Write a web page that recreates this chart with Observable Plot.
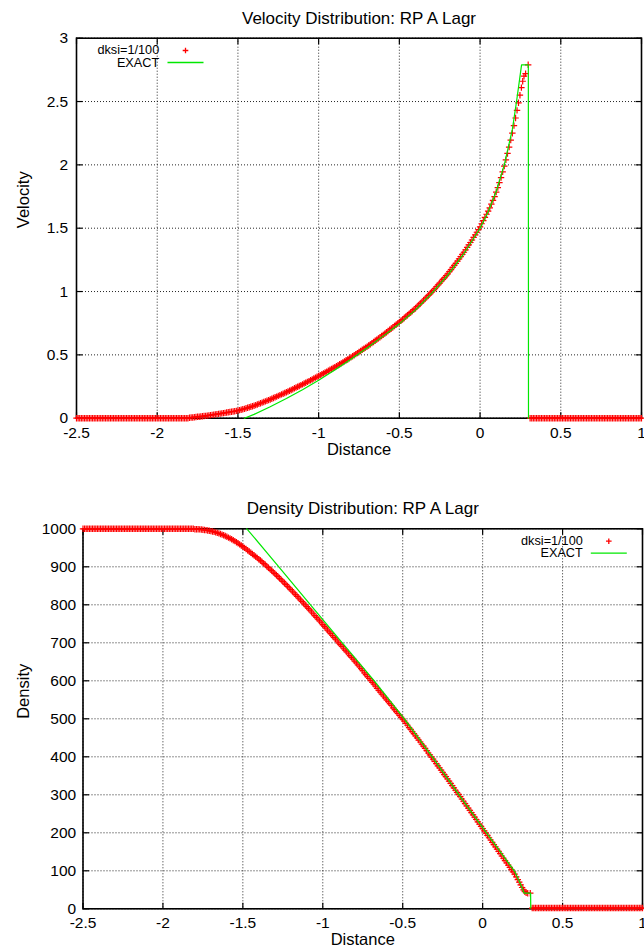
<!DOCTYPE html>
<html><head><meta charset="utf-8">
<script src="https://cdn.jsdelivr.net/npm/d3@7"></script>
<script src="https://cdn.jsdelivr.net/npm/@observablehq/plot@0.6"></script>
<style>
body{margin:0;background:#fff;}
#chart{width:644px;}
#chart svg{display:block;}
</style></head><body><div id="chart"></div>
<script>
// ---------- axis ticks ----------
const xTicks = [-2.5,-2,-1.5,-1,-0.5,0,0.5,1];
const velTicks = [0,0.5,1,1.5,2,2.5,3];
const denTicks = [0,100,200,300,400,500,600,700,800,900,1000];

// ---------- numerical solution (dksi=1/100), shared node positions ----------
const numLeftX = [-2.5,-2.49,-2.48,-2.47,-2.46,-2.45,-2.44,-2.43,-2.42,-2.41,
 -2.4,-2.39,-2.38,-2.37,-2.36,-2.35,-2.34,-2.33,-2.32,-2.31,
 -2.3,-2.29,-2.28,-2.27,-2.26,-2.25,-2.24,-2.23,-2.22,-2.21,
 -2.2,-2.19,-2.18,-2.17,-2.16,-2.15,-2.14,-2.13,-2.12,-2.11,
 -2.1,-2.09,-2.08,-2.07,-2.06,-2.05,-2.04,-2.03,-2.02,-2.01,
 -2,-1.99,-1.98,-1.97,-1.96,-1.95,-1.94,-1.93,-1.92,-1.91,
 -1.9,-1.89,-1.88,-1.87,-1.86,-1.85,-1.84,-1.83,-1.82,-1.81];
const numRightX = [0.31,0.32,0.33,0.34,0.35,0.36,0.37,0.38,0.39,0.4,
 0.41,0.42,0.43,0.44,0.45,0.46,0.47,0.48,0.49,0.5,
 0.51,0.52,0.53,0.54,0.55,0.56,0.57,0.58,0.59,0.6,
 0.61,0.62,0.63,0.64,0.65,0.66,0.67,0.68,0.69,0.7,
 0.71,0.72,0.73,0.74,0.75,0.76,0.77,0.78,0.79,0.8,
 0.81,0.82,0.83,0.84,0.85,0.86,0.87,0.88,0.89,0.9,
 0.91,0.92,0.93,0.94,0.95,0.96,0.97,0.98,0.99,1];
const velLeftState = 0, velRightState = 0;
const denLeftState = 1000, denRightState = 2;

const numMidX = [-1.8,-1.79,-1.78,-1.77,-1.76,-1.75,-1.74,-1.73,-1.72,-1.71,
 -1.7,-1.69,-1.68,-1.67,-1.66,-1.65,-1.64,-1.63,-1.62,-1.61,
 -1.6,-1.59,-1.58,-1.57,-1.56,-1.55,-1.54,-1.53,-1.52,-1.51,
 -1.5,-1.49,-1.48,-1.47,-1.46,-1.45,-1.44,-1.43,-1.42,-1.41,
 -1.4,-1.39,-1.38,-1.37,-1.36,-1.35,-1.34,-1.33,-1.32,-1.31,
 -1.3,-1.29,-1.28,-1.27,-1.26,-1.25,-1.24,-1.23,-1.22,-1.21,
 -1.2,-1.19,-1.18,-1.17,-1.16,-1.15,-1.14,-1.13,-1.12,-1.11,
 -1.1,-1.09,-1.08,-1.07,-1.06,-1.05,-1.04,-1.03,-1.02,-1.01,
 -1,-0.99,-0.98,-0.97,-0.96,-0.95,-0.94,-0.93,-0.92,-0.91,
 -0.9,-0.89,-0.88,-0.87,-0.86,-0.85,-0.84,-0.83,-0.82,-0.81,
 -0.8,-0.79,-0.78,-0.77,-0.76,-0.75,-0.74,-0.73,-0.72,-0.71,
 -0.7,-0.69,-0.68,-0.67,-0.66,-0.65,-0.64,-0.63,-0.62,-0.61,
 -0.6,-0.59,-0.58,-0.57,-0.56,-0.55,-0.54,-0.53,-0.52,-0.51,
 -0.5,-0.49,-0.48,-0.47,-0.46,-0.45,-0.44,-0.43,-0.42,-0.41,
 -0.4,-0.39,-0.38,-0.37,-0.36,-0.35,-0.34,-0.33,-0.32,-0.31,
 -0.3,-0.29,-0.28,-0.27,-0.26,-0.25,-0.24,-0.23,-0.22,-0.21,
 -0.2,-0.19,-0.18,-0.17,-0.16,-0.15,-0.14,-0.13,-0.12,-0.11,
 -0.1,-0.09,-0.08,-0.07,-0.06,-0.05,-0.04,-0.03,-0.02,-0.01,
 0,
 0.01,0.02,0.03,0.04,0.05,0.06,0.07,0.08,0.09,0.1,
 0.11,0.12,0.13,0.14,0.15,0.16,0.17,0.18,0.19,0.2,
 0.21,0.22,0.229,0.238,0.247,0.256,0.264,0.272,0.282,0.298];
const velMid = [0.004,0.005,0.006,0.008,0.009,0.011,0.012,0.014,0.015,0.017,
 0.018,0.020,0.022,0.024,0.026,0.028,0.030,0.032,0.034,0.036,
 0.038,0.040,0.042,0.045,0.047,0.049,0.051,0.053,0.055,0.058,
 0.060,0.064,0.067,0.071,0.074,0.078,0.082,0.086,0.090,0.094,
 0.098,0.103,0.108,0.113,0.118,0.123,0.128,0.133,0.138,0.143,
 0.148,0.154,0.159,0.165,0.170,0.176,0.182,0.188,0.193,0.199,
 0.205,0.211,0.217,0.223,0.229,0.236,0.242,0.248,0.254,0.261,
 0.267,0.274,0.280,0.287,0.293,0.300,0.306,0.313,0.320,0.327,
 0.333,0.340,0.347,0.354,0.361,0.368,0.375,0.382,0.389,0.396,
 0.403,0.411,0.418,0.426,0.433,0.441,0.449,0.457,0.464,0.472,
 0.480,0.489,0.497,0.506,0.514,0.523,0.531,0.540,0.548,0.557,
 0.565,0.574,0.583,0.593,0.602,0.611,0.620,0.630,0.639,0.649,
 0.658,0.668,0.678,0.688,0.698,0.708,0.718,0.728,0.738,0.748,
 0.758,0.769,0.780,0.791,0.802,0.813,0.824,0.835,0.846,0.857,
 0.868,0.881,0.893,0.906,0.918,0.931,0.943,0.956,0.969,0.982,
 0.995,1.009,1.023,1.038,1.052,1.067,1.081,1.096,1.110,1.125,
 1.140,1.157,1.173,1.190,1.206,1.223,1.240,1.258,1.275,1.293,
 1.310,1.329,1.348,1.368,1.387,1.407,1.427,1.448,1.468,1.489,
 1.510,
 1.535,1.56,1.585,1.61,1.635,1.66,1.69,1.72,1.75,1.785,
 1.82,1.86,1.90,1.945,1.99,2.04,2.09,2.14,2.195,2.25,
 2.31,2.37,2.43,2.49,2.55,2.61,2.66,2.70,2.72,2.79];
const denMid = [999.0,998.9,998.7,998.4,998.0,997.5,997.0,996.4,995.7,994.9,
 994.0,993.0,991.9,990.7,989.4,988.0,986.4,984.7,982.9,981.0,
 979.0,976.9,974.7,972.4,970.0,967.5,964.8,962.0,959.1,956.1,
 953.0,949.9,946.7,943.5,940.2,936.9,933.6,930.2,926.8,923.4,
 920.0,916.4,912.7,909.0,905.2,901.4,897.6,893.8,889.9,886.0,
 882.0,878.0,873.9,869.8,865.6,861.4,857.2,853.0,848.7,844.4,
 840.0,835.6,831.2,826.7,822.2,817.7,813.2,808.7,804.2,799.6,
 795.0,790.4,785.8,781.1,776.4,771.7,767.0,762.3,757.6,752.8,
 748.0,743.2,738.4,733.6,728.8,724.0,719.2,714.4,709.6,704.8,
 700.0,695.2,690.4,685.6,680.8,676.0,671.2,666.4,661.6,656.8,
 652,647,642,637,632,627,621,616,611,606,
 601,596,591,586,580,575,570,565,560,555,
 550,545,540,535,529,524,519,514,509,504,
 499,494,488,483,477,472,466,461,455,450,
 444,439,433,428,422,416,410,405,399,394,
 388,382,376,371,365,359,353,348,342,336,
 330,324,318,312,306,301,295,289,283,277,
 271,265,259,253,247,241,235,229,223,217,
 211,
 205,199,193,187,181,175,169,163,157,151,
 145,139,133,127,121,115,109,103,97,91,
 84,77,70,63,56,50,45,42,41,41];

// ---------- exact solution ----------
const velExactX = [-1.46,-1.4,-1.3,-1.2,-1.1,-1.0,-0.9,-0.8,-0.7,-0.6,-0.5,-0.4,-0.3,-0.2,-0.1,0,0.05,0.1,0.15,0.2,0.226,0.257,0.299,0.300];
const velExactY = [0,0.03,0.09,0.155,0.225,0.30,0.38,0.465,0.555,0.648,0.745,0.855,0.985,1.13,1.30,1.50,1.63,1.79,2.0,2.28,2.5,2.79,2.79,0];
const denExactX = [-1.475,-1.275,-1.077,-0.878,-0.678,-0.49,-0.315,-0.148,0.024,0.198,0.23,0.26,0.300,0.301];
const denExactY = [1000,900,800,700,600,500,400,300,200,100,72,41,41,2];

// ---------- text ----------
const titles = ["Velocity Distribution: RP A Lagr", "Density Distribution: RP A Lagr"];
const yLabels = ["Velocity", "Density"];
const xLabel = "Distance";
const legendLabels = ["dksi=1/100", "EXACT"];

// ---------- rendering ----------
const FONT = "'Liberation Sans', Arimo, Arial, Helvetica, sans-serif";
const RED = "#ff0000", GREEN = "#00e800";
const plusSym = {draw(c, s){const r = Math.sqrt(s/Math.PI); c.moveTo(-r,0); c.lineTo(r,0); c.moveTo(0,-r); c.lineTo(0,r);}};
const tickB = {draw(c){c.moveTo(0,0); c.lineTo(0,-6);}};
const tickT = {draw(c){c.moveTo(0,0); c.lineTo(0,6);}};
const tickL = {draw(c){c.moveTo(0,0); c.lineTo(6,0);}};
const tickR = {draw(c){c.moveTo(0,0); c.lineTo(-6,0);}};
const keyLine = {draw(c){c.moveTo(-18,0); c.lineTo(18,0);}};

function panel(o) {
  const mid = numMidX.map((x, i) => ({x, y: o.midY[i]}));
  const exact = o.exX.map((x, i) => ({x, y: o.exY[i]}));
  const txt = d => d;
  const L = o.legend;
  const mk = {symbol: plusSym, r: 3.2, stroke: RED, fill: "none", strokeWidth: 1.2};
  return Plot.plot({
    width: 644, height: o.height,
    marginTop: o.mt, marginBottom: o.mb, marginLeft: o.ml, marginRight: o.mr,
    style: {fontFamily: FONT, background: "#fff", color: "#000", overflow: "visible"},
    x: {domain: [-2.5, 1], axis: null},
    y: {domain: o.yDomain, axis: null},
    marks: [
      Plot.ruleX(xTicks, {x: d => d, stroke: "#000", strokeWidth: 1, strokeDasharray: "1,2", strokeOpacity: 0.85}),
      Plot.ruleY(o.yTicks, {y: d => d, stroke: "#000", strokeWidth: 1, strokeDasharray: "1,2", strokeOpacity: 0.85}),
      Plot.frame({stroke: "#000", strokeWidth: 1.6}),
      Plot.dot(xTicks, {x: d => d, frameAnchor: "bottom", symbol: tickB, r: 1, stroke: "#000", fill: "none", strokeWidth: 1.2}),
      Plot.dot(xTicks, {x: d => d, frameAnchor: "top", symbol: tickT, r: 1, stroke: "#000", fill: "none", strokeWidth: 1.2}),
      Plot.dot(o.yTicks, {y: d => d, frameAnchor: "left", symbol: tickL, r: 1, stroke: "#000", fill: "none", strokeWidth: 1.2}),
      Plot.dot(o.yTicks, {y: d => d, frameAnchor: "right", symbol: tickR, r: 1, stroke: "#000", fill: "none", strokeWidth: 1.2}),
      // numerical
      Plot.dot(numLeftX, {x: d => d, y: () => o.leftState, ...mk}),
      Plot.dot(mid, {x: "x", y: "y", ...mk}),
      Plot.dot(numRightX, {x: d => d, y: () => o.rightState, ...mk}),
      // exact
      Plot.line(exact, {x: "x", y: "y", stroke: GREEN, strokeWidth: 1.2}),
      // tick labels
      Plot.text(xTicks, {x: d => d, frameAnchor: "bottom", dy: 19.5, lineAnchor: "bottom", text: d => String(d), fontSize: 15.5, fill: "#000"}),
      Plot.text(o.yTicks, {y: d => d, frameAnchor: "left", dx: o.ytdx, textAnchor: "end", lineAnchor: "middle", text: d => String(d), fontSize: 15.5, fill: "#000"}),
      // titles & labels
      Plot.text([o.title], {frameAnchor: "top", dy: -14.5, lineAnchor: "bottom", text: txt, fontSize: 17, fill: "#000"}),
      Plot.text([xLabel], {frameAnchor: "bottom", dy: 36.5, lineAnchor: "bottom", text: txt, fontSize: 16.5, fill: "#000"}),
      Plot.text([o.yLabel], {frameAnchor: "left", dx: o.yldx, rotate: -90, lineAnchor: "bottom", text: txt, fontSize: 16.5, fill: "#000"}),
      // legend
      Plot.text([legendLabels[0]], {frameAnchor: L.anchor, dx: L.tx, dy: L.ty1, textAnchor: "end", lineAnchor: "bottom", text: txt, fontSize: 12.7, fill: "#000"}),
      Plot.text([legendLabels[1]], {frameAnchor: L.anchor, dx: L.tx, dy: L.ty2, textAnchor: "end", lineAnchor: "bottom", text: txt, fontSize: 12.7, fill: "#000"}),
      Plot.dot([0], {frameAnchor: L.anchor, dx: L.sx, dy: L.sy1, symbol: plusSym, r: 2.8, stroke: RED, fill: "none", strokeWidth: 1.3}),
      Plot.dot([0], {frameAnchor: L.anchor, dx: L.sx, dy: L.sy2, symbol: keyLine, r: 1, stroke: GREEN, fill: "none", strokeWidth: 1.3})
    ]
  });
}

const chart = document.getElementById("chart");
chart.appendChild(panel({
  height: 473, mt: 37.7, mb: 55.3, ml: 76, mr: 3,
  yDomain: [0, 3], yTicks: velTicks, midY: velMid,
  leftState: velLeftState, rightState: velRightState,
  exX: velExactX, exY: velExactY,
  title: titles[0], yLabel: yLabels[0], ytdx: -8.3, yldx: -48,
  legend: {anchor: "top-left", tx: 82.7, ty1: 15.6, ty2: 29, sx: 109, sy1: 12.3, sy2: 24.3}
}));
chart.appendChild(panel({
  height: 474, mt: 55.3, mb: 38.7, ml: 82.5, mr: 2,
  yDomain: [0, 1000], yTicks: denTicks, midY: denMid,
  leftState: denLeftState, rightState: denRightState,
  exX: denExactX, exY: denExactY,
  title: titles[1], yLabel: yLabels[1], ytdx: -6.8, yldx: -54.5,
  legend: {anchor: "top-right", tx: -59.7, ty1: 16, ty2: 28.4, sx: -33.7, sy1: 12.4, sy2: 24.4}
}));
</script>
</body></html>
